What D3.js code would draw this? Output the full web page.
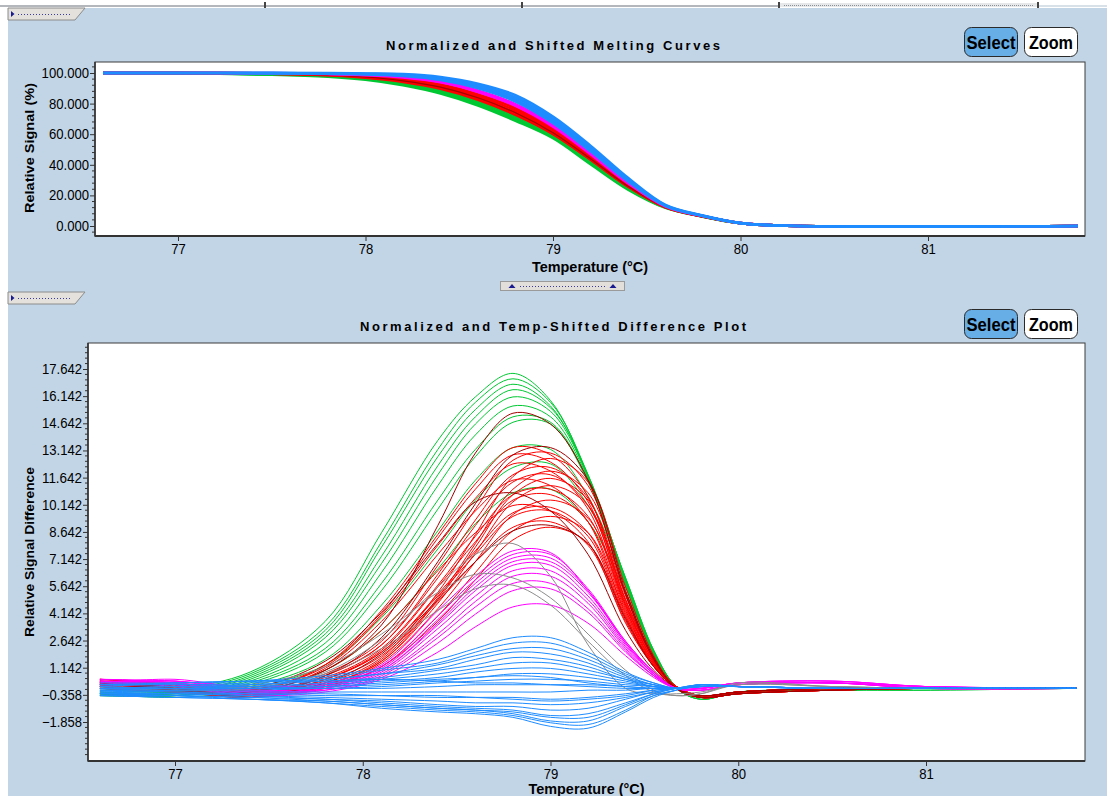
<!DOCTYPE html>
<html><head><meta charset="utf-8">
<script src="https://cdn.jsdelivr.net/npm/d3@7"></script>
<style>
body{margin:0;background:#fff;}
svg{display:block;}
</style></head><body>
<svg id="c" width="1107" height="796"></svg>
<script>
// ---------------- DATA ----------------
const xTickValues = [77, 78, 79, 80, 81];
const topYTicks = [0, 20, 40, 60, 80, 100];
const diffYTicks = [-1.858, -0.358, 1.142, 2.642, 4.142, 5.642, 7.142, 8.642, 10.142, 11.642, 13.142, 14.642, 16.142, 17.642];

const topTemps = [76.6, 77.0, 77.5, 77.8, 78.0, 78.2, 78.4, 78.6, 78.8, 79.0, 79.2, 79.4, 79.6, 79.8, 80.0, 80.2, 81.8];
const topGray = [
  [100, 100, 99.8, 99.2, 98.4, 96.8, 93.4, 87.2, 78.4, 65.8, 47.6, 28.0, 12.6, 6.4, 1.9, 0.3, 0]
];
const topGreen = [
  [100, 99.9, 99.3, 98.3, 96.6, 93.6, 88.9, 81.2, 71.4, 59.4, 42.0, 25.0, 12.2, 6.2, 1.8, 0.3, 0],
  [100, 99.9, 99.1, 98.0, 96.1, 92.8, 87.8, 80.0, 70.0, 58.4, 41.2, 24.4, 12.0, 6.1, 1.8, 0.3, 0],
  [100, 99.8, 98.9, 97.6, 95.6, 92.0, 86.6, 78.8, 68.8, 57.4, 40.4, 23.8, 11.9, 6.1, 1.8, 0.3, 0]
];
const topRed = [
  [100, 100, 99.8, 99.1, 98.1, 96.0, 92.4, 86.0, 77.0, 64.0, 46.2, 27.4, 12.6, 6.4, 1.9, 0.3, 0],
  [100, 100, 99.7, 98.9, 97.7, 95.4, 91.5, 84.8, 75.5, 62.6, 45.2, 26.8, 12.5, 6.4, 1.9, 0.3, 0],
  [100, 100, 99.6, 98.7, 97.3, 94.8, 90.6, 83.6, 74.0, 61.2, 44.2, 26.2, 12.4, 6.3, 1.9, 0.3, 0],
  [100, 100, 99.5, 98.5, 96.9, 94.2, 89.7, 82.5, 72.6, 60.0, 43.3, 25.7, 12.3, 6.3, 1.9, 0.3, 0]
];
const topDarkRed = [
  [100, 100, 99.6, 98.7, 97.4, 94.9, 90.8, 83.8, 74.0, 61.0, 44.0, 26.0, 12.3, 6.3, 1.9, 0.3, 0]
];
const topMagenta = [
  [100, 100, 99.9, 99.5, 98.9, 97.6, 94.6, 88.6, 79.6, 66.0, 47.8, 28.5, 12.9, 6.5, 1.9, 0.3, 0],
  [100, 100, 99.8, 99.3, 98.6, 97.1, 93.9, 87.6, 78.6, 65.0, 47.0, 28.0, 12.8, 6.5, 1.9, 0.3, 0]
];
const topBlue = [
  [100, 100, 100, 99.9, 99.7, 99.3, 97.4, 93.0, 85.5, 71.5, 52.5, 31.5, 13.8, 6.8, 1.9, 0.3, 0],
  [100, 100, 100, 99.8, 99.5, 98.9, 96.8, 92.0, 84.0, 70.0, 51.0, 30.5, 13.5, 6.7, 1.9, 0.3, 0],
  [100, 100, 99.9, 99.7, 99.3, 98.5, 96.1, 91.0, 82.6, 68.5, 49.8, 29.8, 13.3, 6.6, 1.9, 0.3, 0],
  [100, 100, 99.9, 99.6, 99.1, 98.1, 95.5, 90.1, 81.4, 67.2, 48.8, 29.2, 13.1, 6.6, 1.9, 0.3, 0]
];

const diffTemps = [76.6, 77.0, 77.4, 77.8, 78.1, 78.4, 78.6, 78.8, 79.0, 79.2, 79.4, 79.55, 79.67, 79.8, 80.0, 80.5, 81.0, 81.8];
const diffGreen = [
  [0.1, 0.0, 0.9, 3.7, 8.6, 13.7, 16.1, 17.4, 15.9, 11.7, 5.7, 1.8, 0.0, -0.6, -0.2, -0.1, 0.0, 0.0],
  [-0.1, -0.1, 0.8, 3.4, 8.1, 13.2, 15.8, 17.1, 15.8, 11.8, 5.8, 1.9, 0.0, -0.6, -0.2, -0.1, -0.1, 0.0],
  [0.0, -0.2, 0.7, 3.2, 7.8, 12.8, 15.4, 16.8, 15.6, 11.7, 5.9, 1.9, 0.0, -0.6, -0.2, -0.1, 0.0, 0.0],
  [-0.2, -0.2, 0.6, 3.0, 7.3, 12.3, 15.0, 16.5, 15.5, 11.8, 6.0, 2.0, 0.1, -0.5, -0.2, -0.1, 0.0, 0.0],
  [-0.3, -0.3, 0.5, 2.8, 6.9, 11.8, 14.6, 16.1, 15.3, 11.7, 6.0, 2.0, 0.1, -0.5, -0.2, -0.1, -0.1, 0.0],
  [-0.2, -0.3, 0.4, 2.5, 6.4, 11.2, 14.0, 15.6, 15.0, 11.6, 6.0, 2.0, 0.1, -0.5, -0.2, -0.1, 0.0, 0.0],
  [-0.3, -0.4, 0.3, 2.2, 5.8, 10.4, 13.2, 15.0, 14.7, 11.5, 6.1, 2.1, 0.1, -0.5, -0.2, -0.1, 0.0, 0.0],
  [-0.4, -0.4, 0.2, 2.0, 5.4, 9.9, 12.8, 14.7, 14.6, 11.4, 6.1, 2.1, 0.1, -0.5, -0.2, -0.1, 0.0, 0.0],
  [-0.3, -0.4, 0.1, 1.6, 4.6, 8.7, 11.5, 13.3, 13.2, 10.6, 5.8, 2.0, 0.1, -0.5, -0.2, -0.1, 0.0, 0.0],
  [-0.4, -0.4, 0.0, 1.3, 3.9, 7.7, 10.4, 12.2, 12.4, 10.1, 5.6, 2.0, 0.1, -0.5, -0.2, 0.0, 0.0, 0.0],
  [-0.3, -0.5, -0.1, 1.0, 3.2, 6.6, 9.1, 10.8, 11.0, 9.2, 5.3, 1.9, 0.1, -0.4, -0.2, 0.0, 0.0, 0.0]
];
const diffRed = [
  [0.4, 0.1, -0.2, 1.3, 4.3, 8.5, 11.3, 13.3, 12.9, 10.6, 4.8, 1.6, 0.0, -0.5, -0.3, -0.1, 0.0, 0.0],
  [0.2, 0.0, -0.4, 0.8, 2.6, 6.8, 9.9, 12.6, 13.0, 11.2, 5.2, 1.7, 0.1, -0.4, -0.2, 0.0, 0.0, 0.0],
  [0.5, 0.2, -0.3, 0.3, 1.7, 5.3, 8.5, 11.7, 12.7, 11.4, 5.6, 1.8, 0.0, -0.5, -0.3, -0.1, 0.0, 0.0],
  [0.3, 0.0, -0.1, 1.2, 4.0, 7.9, 10.5, 12.4, 12.0, 9.9, 4.5, 1.5, 0.1, -0.4, -0.2, 0.0, 0.0, 0.0],
  [0.1, -0.1, -0.4, 0.7, 2.4, 6.3, 9.3, 11.8, 12.2, 10.5, 4.9, 1.6, 0.0, -0.5, -0.3, -0.1, 0.0, 0.0],
  [0.4, 0.2, -0.2, 0.2, 1.6, 5.0, 8.0, 11.0, 12.0, 10.8, 5.3, 1.7, 0.1, -0.4, -0.2, 0.0, 0.0, 0.0],
  [0.2, 0.1, -0.5, 0.7, 2.4, 6.1, 9.0, 11.4, 11.8, 10.1, 4.7, 1.5, 0.0, -0.5, -0.3, -0.1, 0.0, 0.0],
  [0.0, -0.2, -0.3, 1.1, 3.7, 7.4, 9.8, 11.5, 11.2, 9.2, 4.1, 1.4, 0.1, -0.4, -0.2, 0.0, 0.0, 0.0],
  [0.3, 0.1, -0.4, 0.2, 1.5, 4.7, 7.5, 10.3, 11.2, 10.1, 4.9, 1.6, 0.0, -0.5, -0.3, -0.1, 0.0, 0.0],
  [0.5, 0.3, -0.1, 0.6, 2.2, 5.7, 8.4, 10.7, 11.0, 9.5, 4.4, 1.4, 0.1, -0.4, -0.2, 0.0, 0.0, 0.0],
  [0.1, -0.1, -0.5, 0.5, 2.1, 5.6, 8.1, 10.4, 10.7, 9.2, 4.3, 1.4, 0.0, -0.5, -0.3, -0.1, 0.0, 0.0],
  [0.3, 0.0, -0.3, 0.1, 1.4, 4.4, 7.0, 9.6, 10.4, 9.4, 4.6, 1.5, 0.1, -0.4, -0.2, 0.0, 0.0, 0.0],
  [0.2, 0.1, -0.2, 1.0, 3.2, 6.5, 8.6, 10.1, 9.8, 8.1, 3.6, 1.2, 0.0, -0.5, -0.3, -0.1, 0.0, 0.0],
  [0.4, 0.1, -0.4, 0.5, 2.0, 5.1, 7.4, 9.5, 9.8, 8.4, 3.9, 1.3, 0.1, -0.4, -0.2, 0.0, 0.0, 0.0],
  [0.0, -0.2, -0.5, 0.1, 1.2, 4.0, 6.4, 8.7, 9.5, 8.6, 4.2, 1.3, 0.0, -0.5, -0.3, -0.1, 0.0, 0.0],
  [0.3, 0.2, -0.3, 0.4, 1.8, 4.8, 7.0, 8.9, 9.2, 7.9, 3.7, 1.2, 0.1, -0.4, -0.2, 0.0, 0.0, 0.0],
  [0.2, 0.0, -0.4, 0.0, 1.2, 3.7, 6.0, 8.2, 8.9, 8.0, 3.9, 1.2, 0.0, -0.5, -0.3, -0.1, 0.0, 0.0],
  [0.5, 0.2, -0.1, 1.3, 4.1, 8.3, 11.0, 12.9, 12.5, 10.3, 4.6, 1.5, 0.1, -0.4, -0.2, 0.0, 0.0, 0.0],
  [0.1, 0.0, -0.4, 0.2, 1.5, 4.9, 7.8, 10.7, 11.6, 10.4, 5.1, 1.6, 0.0, -0.5, -0.3, -0.1, 0.0, 0.0],
  [0.3, 0.1, -0.3, 0.5, 2.0, 5.2, 7.6, 9.7, 10.0, 8.6, 4.0, 1.3, 0.1, -0.4, -0.2, 0.0, 0.0, 0.0]
];
const diffDarkRed = [
  [0.3, 0.1, -0.2, 1.0, 3.5, 9.0, 13.0, 15.2, 14.6, 11.5, 5.2, 1.6, 0.0, -0.5, -0.3, -0.1, 0.0, 0.0],
  [0.2, 0.0, -0.4, 0.7, 2.8, 7.0, 10.2, 12.9, 13.3, 11.5, 5.4, 1.7, 0.0, -0.5, -0.3, -0.1, 0.0, 0.0],
  [0.4, 0.2, 0.0, 1.5, 4.2, 8.0, 10.3, 10.8, 9.8, 7.4, 3.2, 1.0, 0.0, -0.4, -0.2, 0.0, 0.0, 0.0],
  [0.1, -0.1, -0.4, 0.3, 1.9, 4.9, 7.0, 8.7, 9.0, 8.0, 3.8, 1.2, 0.0, -0.4, -0.2, 0.0, 0.0, 0.0]
];
const diffMagenta = [
  [0.5, 0.4, 0.1, 0.3, 1.3, 4.3, 6.2, 7.6, 7.5, 5.4, 2.6, 0.9, 0.0, 0.0, 0.3, 0.4, 0.1, 0.0],
  [0.3, 0.5, 0.0, 0.2, 1.2, 4.0, 6.0, 7.4, 7.4, 5.5, 2.6, 0.9, 0.0, 0.0, 0.3, 0.3, 0.1, 0.0],
  [0.4, 0.3, -0.2, 0.2, 1.1, 3.8, 5.8, 7.2, 7.2, 5.4, 2.5, 0.9, 0.0, -0.1, 0.2, 0.3, 0.0, 0.0],
  [0.2, 0.4, -0.1, 0.1, 1.0, 3.6, 5.6, 7.0, 7.0, 5.3, 2.5, 0.8, 0.0, 0.0, 0.3, 0.4, 0.1, 0.0],
  [0.5, 0.3, -0.3, 0.1, 1.0, 3.5, 5.4, 6.8, 6.8, 5.1, 2.4, 0.8, 0.0, -0.1, 0.2, 0.3, 0.0, 0.0],
  [0.1, 0.2, -0.4, 0.0, 0.9, 3.3, 5.1, 6.5, 6.5, 4.9, 2.3, 0.8, 0.0, 0.0, 0.3, 0.3, 0.1, 0.0],
  [0.3, 0.4, -0.2, 0.0, 0.8, 3.0, 4.8, 6.2, 6.2, 4.7, 2.2, 0.7, 0.0, -0.1, 0.2, 0.3, 0.0, 0.0],
  [0.4, 0.2, -0.3, -0.1, 0.7, 2.8, 4.5, 5.8, 5.8, 4.4, 2.1, 0.7, 0.0, 0.0, 0.3, 0.4, 0.1, 0.0],
  [0.2, 0.3, -0.1, -0.1, 0.6, 2.5, 4.1, 5.4, 5.5, 4.2, 2.0, 0.7, 0.0, -0.1, 0.2, 0.3, 0.0, 0.0],
  [0.4, 0.1, -0.4, -0.2, 0.5, 2.0, 3.4, 4.5, 4.6, 3.6, 1.8, 0.6, 0.0, 0.0, 0.2, 0.3, 0.1, 0.0]
];
const diffGray = [
  [0.0, -0.1, 0.0, 0.9, 2.7, 5.6, 7.4, 8.0, 6.2, 2.4, 0.0, -0.3, -0.3, -0.2, 0.2, 0.1, 0.0, 0.0],
  [0.1, 0.0, 0.2, 1.2, 3.0, 5.3, 6.3, 6.1, 5.0, 3.0, 1.0, -0.1, -0.4, -0.3, 0.3, 0.1, 0.0, 0.0],
  [0.0, 0.0, 0.1, 0.8, 2.2, 4.3, 5.5, 5.7, 4.6, 2.6, 0.7, -0.2, -0.4, -0.3, 0.2, 0.1, 0.0, 0.0]
];
const diffBlue = [
  [0.3, 0.3, 0.4, 0.7, 1.1, 1.6, 2.2, 2.8, 2.8, 2.0, 0.9, 0.3, 0.0, 0.1, 0.1, 0.0, 0.0, 0.0],
  [0.2, 0.2, 0.3, 0.6, 1.0, 1.4, 2.0, 2.5, 2.5, 1.8, 0.8, 0.3, 0.0, 0.1, 0.1, 0.0, 0.0, 0.0],
  [0.1, 0.3, 0.4, 0.5, 0.8, 1.3, 1.8, 2.2, 2.2, 1.6, 0.7, 0.2, 0.0, 0.1, 0.1, 0.0, 0.0, 0.0],
  [0.0, 0.1, 0.2, 0.5, 0.8, 1.1, 1.6, 2.0, 1.9, 1.4, 0.6, 0.2, 0.0, 0.2, 0.1, 0.0, 0.0, 0.0],
  [0.2, 0.2, 0.2, 0.4, 0.6, 1.0, 1.3, 1.7, 1.6, 1.2, 0.5, 0.2, 0.0, 0.2, 0.1, 0.0, 0.0, 0.0],
  [-0.1, 0.0, 0.1, 0.3, 0.5, 0.8, 1.1, 1.4, 1.4, 1.0, 0.5, 0.1, 0.0, 0.1, 0.1, 0.0, 0.0, 0.0],
  [0.0, 0.1, 0.1, 0.2, 0.4, 0.6, 0.9, 1.1, 1.1, 0.8, 0.4, 0.1, 0.0, 0.1, 0.1, 0.0, 0.0, 0.0],
  [-0.2, -0.1, 0.0, 0.1, 0.3, 0.5, 0.6, 0.8, 0.8, 0.6, 0.3, 0.1, 0.0, 0.2, 0.1, 0.0, 0.0, 0.0],
  [0.1, 0.0, 0.0, 0.0, 0.1, 0.3, 0.4, 0.5, 0.5, 0.4, 0.2, 0.1, 0.0, 0.1, 0.1, 0.0, 0.0, 0.0],
  [-0.1, -0.1, -0.1, 0.0, 0.0, 0.1, 0.2, 0.2, 0.2, 0.2, 0.1, 0.0, 0.0, 0.1, 0.1, 0.0, 0.0, 0.0],
  [-0.2, -0.2, -0.2, -0.2, -0.2, -0.2, -0.2, -0.2, -0.2, -0.1, -0.1, 0.0, 0.0, 0.1, 0.1, 0.0, 0.0, 0.0],
  [-0.1, -0.2, -0.3, -0.3, -0.4, -0.5, -0.5, -0.5, -0.6, -0.5, -0.3, -0.1, 0.0, 0.1, 0.1, 0.0, 0.0, 0.0],
  [-0.3, -0.3, -0.4, -0.5, -0.6, -0.7, -0.8, -0.8, -0.9, -0.8, -0.5, -0.2, 0.0, 0.1, 0.1, 0.0, 0.0, 0.0],
  [-0.2, -0.3, -0.4, -0.6, -0.7, -0.9, -1.0, -1.0, -1.2, -1.1, -0.6, -0.2, 0.0, 0.2, 0.1, 0.0, 0.0, 0.0],
  [-0.3, -0.4, -0.5, -0.6, -0.8, -1.0, -1.1, -1.2, -1.5, -1.4, -0.8, -0.3, 0.0, 0.2, 0.1, 0.0, 0.0, 0.0],
  [-0.4, -0.4, -0.5, -0.7, -0.9, -1.1, -1.2, -1.3, -1.6, -1.6, -0.9, -0.3, 0.0, 0.2, 0.1, 0.0, 0.0, 0.0],
  [-0.3, -0.4, -0.6, -0.7, -0.9, -1.1, -1.2, -1.4, -1.8, -1.8, -1.0, -0.4, -0.1, 0.2, 0.1, 0.0, 0.0, 0.0],
  [-0.4, -0.5, -0.6, -0.8, -1.0, -1.2, -1.3, -1.5, -1.9, -2.0, -1.2, -0.4, -0.1, 0.2, 0.1, 0.0, 0.0, 0.0],
  [-0.4, -0.5, -0.6, -0.8, -1.1, -1.3, -1.4, -1.6, -2.1, -2.2, -1.3, -0.5, -0.1, 0.2, 0.1, 0.0, 0.0, 0.0],
  [0.2, 0.3, 0.4, 0.4, 0.5, 0.4, 0.3, 0.3, 0.2, 0.1, 0.0, 0.0, 0.0, 0.1, 0.1, 0.0, 0.0, 0.0],
  [-0.3, -0.3, -0.3, -0.4, -0.4, -0.4, -0.5, -0.6, -0.7, -0.6, -0.4, -0.1, 0.0, 0.1, 0.1, 0.0, 0.0, 0.0],
  [0.0, 0.0, 0.0, 0.1, 0.2, 0.4, 0.6, 0.7, 0.6, 0.3, 0.1, 0.0, 0.0, 0.1, 0.1, 0.0, 0.0, 0.0]
];

// ---------------- STYLE ----------------
const C = {
  bg: '#c2d5e6', green: '#00c832', red: '#ff0000', darkred: '#a00000',
  magenta: '#ff00ff', gray: '#8c8c8c', blue: '#1e8cff', axis: '#333333'
};
const SANS = '"Liberation Sans",Arial,sans-serif';
// width (px) of a narrow tick label, per glyph kind
const narrowWidth = s => [...s].reduce((w, ch) => w + (ch === '.' ? 3.6 : ch === '-' ? 4.4 : 7.3), 0);

const svg = d3.select('#c');
svg.append('rect').attr('width', 1107).attr('height', 796).attr('fill', '#ffffff');
svg.append('rect').attr('x', 8).attr('y', 8).attr('width', 1099).attr('height', 788).attr('fill', C.bg);
// top strip
svg.append('rect').attr('x', 0).attr('y', 5).attr('width', 780).attr('height', 2).attr('fill', '#b4b8bc');
svg.append('rect').attr('x', 1037).attr('y', 5).attr('width', 70).attr('height', 2).attr('fill', '#d8e0e8');
svg.append('rect').attr('x', 780).attr('y', 3).attr('width', 257).attr('height', 4).attr('fill', '#e6e8ea');
svg.append('line').attr('x1', 784).attr('x2', 1033).attr('y1', 5.5).attr('y2', 5.5)
  .attr('stroke', '#8a8f96').attr('stroke-dasharray', '1,1');
[264, 521, 778, 1037].forEach(px => svg.append('rect').attr('x', px).attr('y', 2).attr('width', 2).attr('height', 6).attr('fill', '#444'));

function tab(y) {
  const g = svg.append('g');
  g.append('path').attr('d', `M8,${y} L85,${y} L75,${y + 12} L8,${y + 12} Z`)
    .attr('fill', '#e4e1dc').attr('stroke', '#8c8c8c');
  g.append('path').attr('d', `M11,${y + 3} L14.5,${y + 6} L11,${y + 9} Z`).attr('fill', '#1a1a90');
  g.append('line').attr('x1', 18).attr('x2', 71).attr('y1', y + 6.5).attr('y2', y + 6.5)
    .attr('stroke', '#3a3aa0').attr('stroke-dasharray', '1,2');
}
tab(8); tab(292);

// splitter
const sp = svg.append('g');
sp.append('rect').attr('x', 500.5).attr('y', 281.5).attr('width', 124).attr('height', 9)
  .attr('fill', '#e2dfda').attr('stroke', '#9a9a9a');
[512, 613].forEach(cx => sp.append('path').attr('d', `M${cx - 3.5},288 L${cx},284 L${cx + 3.5},288 Z`).attr('fill', '#1a1a90'));
sp.append('line').attr('x1', 520).attr('x2', 605).attr('y1', 286.5).attr('y2', 286.5)
  .attr('stroke', '#3a3aa0').attr('stroke-dasharray', '1,2');

function buttons(y) {
  const g = svg.append('g');
  g.append('rect').attr('x', 964.5).attr('y', y + 0.5).attr('width', 53).attr('height', 29).attr('rx', 7)
    .attr('fill', '#67ade6').attr('stroke', '#2a2a2a');
  g.append('rect').attr('x', 1024.5).attr('y', y + 0.5).attr('width', 53).attr('height', 29).attr('rx', 7)
    .attr('fill', '#ffffff').attr('stroke', '#2a2a2a');
  g.append('text').attr('x', 991).attr('y', y + 22).attr('text-anchor', 'middle')
    .style('font', `bold 19px ${SANS}`).attr('fill', '#000').attr('textLength', 49)
    .attr('lengthAdjust', 'spacingAndGlyphs').text('Select');
  g.append('text').attr('x', 1051).attr('y', y + 22).attr('text-anchor', 'middle')
    .style('font', `bold 19px ${SANS}`).attr('fill', '#000').attr('textLength', 44)
    .attr('lengthAdjust', 'spacingAndGlyphs').text('Zoom');
}
buttons(27); buttons(309);

function panel(cfg) {
  const { fx0, fx1, fy0, fy1, x, y, temps, groups, curve, yTicks, yFmt, minorStep, minorStart, minorEnd,
    title, titleY, titleLen, ylabel, ylabelLen, xlabelY, id } = cfg;
  svg.append('rect').attr('x', fx0).attr('y', fy0).attr('width', fx1 - fx0).attr('height', fy1 - fy0)
    .attr('fill', '#ffffff').attr('stroke', '#3c3c3c').attr('stroke-width', 1);
  svg.append('clipPath').attr('id', id).append('rect')
    .attr('x', fx0 + 1).attr('y', fy0 + 1).attr('width', fx1 - fx0 - 2).attr('height', fy1 - fy0 - 2);
  const plot = svg.append('g').attr('clip-path', `url(#${id})`);
  const line = d3.line().x((d, i) => x(temps[i])).y(d => y(d)).curve(curve);
  groups.forEach(([data, color, sw]) => {
    plot.selectAll(null).data(data).join('path')
      .attr('d', line).attr('fill', 'none').attr('stroke', color).attr('stroke-width', sw)
      .attr('stroke-linejoin', 'round');
  });
  // axis lines
  svg.append('line').attr('x1', fx0).attr('x2', fx0).attr('y1', fy0).attr('y2', fy1 + 0.5)
    .attr('stroke', C.axis).attr('stroke-width', 1.6);
  svg.append('line').attr('x1', fx0).attr('x2', fx1).attr('y1', fy1).attr('y2', fy1)
    .attr('stroke', C.axis).attr('stroke-width', 1.8);
  // y axis
  const ya = svg.append('g').attr('transform', `translate(${fx0},0)`)
    .call(d3.axisLeft(y).tickValues(yTicks).tickFormat(yFmt).tickSize(5).tickPadding(1));
  ya.select('.domain').remove();
  ya.selectAll('line').attr('stroke', C.axis);
  ya.selectAll('text').style('font', `14px ${SANS}`).attr('fill', '#000')
    .attr('textLength', d => narrowWidth(yFmt(d))).attr('lengthAdjust', 'spacingAndGlyphs');
  const minors = d3.range(minorStart, minorEnd, minorStep)
    .filter(v => y(v) > fy0 + 1 && y(v) < fy1 - 1 && !yTicks.some(t => Math.abs(t - v) < minorStep / 3));
  svg.append('g').selectAll('line').data(minors).join('line')
    .attr('x1', fx0 - 3).attr('x2', fx0).attr('y1', d => y(d)).attr('y2', d => y(d)).attr('stroke', C.axis);
  // x axis
  const xf = d3.format('d');
  const xa = svg.append('g').attr('transform', `translate(0,${fy1})`)
    .call(d3.axisBottom(x).tickValues(xTickValues).tickFormat(xf).tickSize(5).tickPadding(3));
  xa.select('.domain').remove();
  xa.selectAll('line').attr('stroke', C.axis);
  xa.selectAll('text').style('font', `14px ${SANS}`).attr('fill', '#000')
    .attr('textLength', d => narrowWidth(xf(d))).attr('lengthAdjust', 'spacingAndGlyphs');
  // titles
  const cx = (fx0 + fx1) / 2;
  svg.append('text').attr('x', 553).attr('y', titleY).attr('text-anchor', 'middle')
    .attr('textLength', titleLen).attr('lengthAdjust', 'spacing')
    .style('font', `bold 13px ${SANS}`).attr('fill', '#000').text(title);
  svg.append('text').attr('x', cx).attr('y', xlabelY).attr('text-anchor', 'middle')
    .attr('textLength', 116).attr('lengthAdjust', 'spacingAndGlyphs')
    .style('font', `bold 15px ${SANS}`).attr('fill', '#000').text('Temperature (°C)');
  svg.append('text').attr('transform', `translate(34,${cfg.ylabelCY}) rotate(-90)`).attr('text-anchor', 'middle')
    .attr('textLength', ylabelLen).attr('lengthAdjust', 'spacingAndGlyphs')
    .style('font', `bold 13px ${SANS}`).attr('fill', '#000').text(ylabel);
}

panel({
  id: 'clipTop', fx0: 95, fx1: 1085, fy0: 62, fy1: 236,
  x: d3.scaleLinear().domain([77, 81]).range([178, 928]),
  y: d3.scaleLinear().domain([0, 100]).range([226, 73]),
  temps: topTemps,
  groups: [[topGray, C.gray, 2.4], [topGreen, C.green, 2.6], [topRed, C.red, 2.6], [topDarkRed, C.darkred, 1.2],
           [topMagenta, C.magenta, 2.6], [topBlue, C.blue, 2.6]],
  curve: d3.curveCatmullRom.alpha(0.5),
  yTicks: topYTicks, yFmt: d3.format('.3f'), minorStep: 4, minorStart: -8, minorEnd: 110,
  title: 'Normalized and Shifted Melting Curves', titleY: 50, titleLen: 334,
  ylabel: 'Relative Signal (%)', ylabelLen: 130, ylabelCY: 148, xlabelY: 272
});

panel({
  id: 'clipBot', fx0: 88, fx1: 1085, fy0: 343, fy1: 761,
  x: d3.scaleLinear().domain([77, 81]).range([175, 926]),
  y: d3.scaleLinear().domain([-1.858, 17.642]).range([722, 369]),
  temps: diffTemps,
  groups: [[diffGreen, C.green, 1], [diffRed, C.red, 1], [diffDarkRed, C.darkred, 1], [diffMagenta, C.magenta, 1],
           [diffGray, C.gray, 1], [diffBlue, C.blue, 1]],
  curve: d3.curveCatmullRom.alpha(0.5),
  yTicks: diffYTicks, yFmt: d3.format('.3f'), minorStep: 0.3, minorStart: -4.258, minorEnd: 19.5,
  title: 'Normalized and Temp-Shifted Difference Plot', titleY: 331, titleLen: 386,
  ylabel: 'Relative Signal Difference', ylabelLen: 170, ylabelCY: 552, xlabelY: 794
});
</script>
</body></html>
